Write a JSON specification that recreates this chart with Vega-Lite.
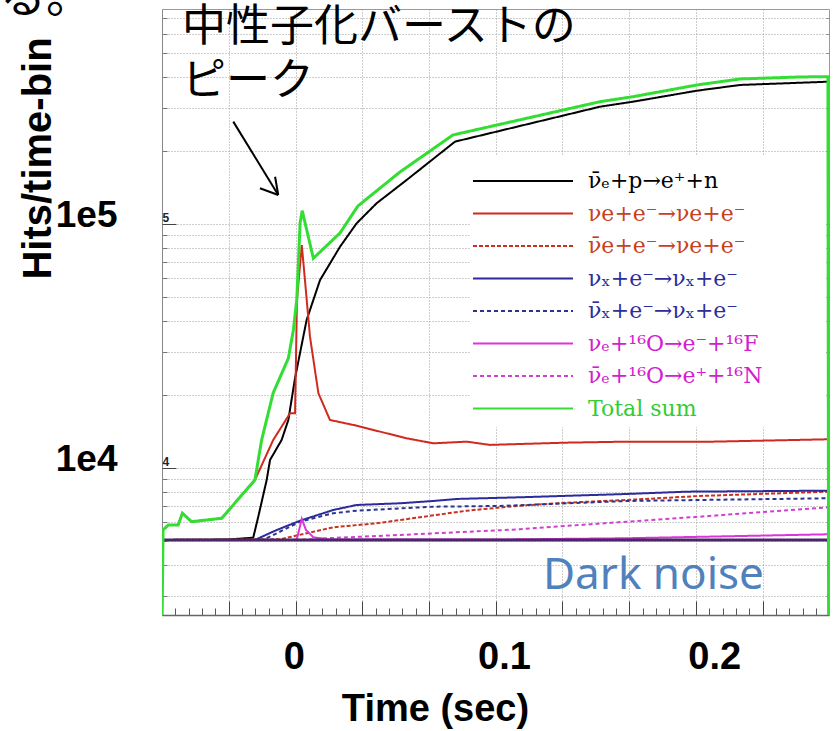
{
  "$schema": "https://vega.github.io/schema/vega-lite/v6.json",
  "autosize": {"type": "none"},
  "padding": {"left": 162, "top": 9, "right": 7, "bottom": 116},
  "width": 667,
  "height": 606,
  "background": "white",
  "config": {"view": {"stroke": "#9a9a9a", "strokeWidth": 1}},
  "datasets": {
    "lines": [
      {"s":"nuebar_p","t":-0.0627,"v":5070},{"s":"nuebar_p","t":-0.0313,"v":5090},{"s":"nuebar_p","t":-0.0193,"v":5180},{"s":"nuebar_p","t":-0.0169,"v":6315},{"s":"nuebar_p","t":-0.0129,"v":8930},{"s":"nuebar_p","t":-0.0113,"v":10790},{"s":"nuebar_p","t":-0.0058,"v":13020},{"s":"nuebar_p","t":-0.0026,"v":15730},{"s":"nuebar_p","t":0.0006,"v":23380},{"s":"nuebar_p","t":0.0061,"v":40420},{"s":"nuebar_p","t":0.0125,"v":58950},{"s":"nuebar_p","t":0.022,"v":80710},{"s":"nuebar_p","t":0.0299,"v":100660},{"s":"nuebar_p","t":0.0394,"v":121600},{"s":"nuebar_p","t":0.0537,"v":151500},{"s":"nuebar_p","t":0.0767,"v":217500},{"s":"nuebar_p","t":0.1457,"v":302500},{"s":"nuebar_p","t":0.1614,"v":317100},{"s":"nuebar_p","t":0.1918,"v":351800},{"s":"nuebar_p","t":0.2123,"v":371300},{"s":"nuebar_p","t":0.2546,"v":383000},
      {"s":"nue_e","t":-0.0622,"v":5570},{"s":"nue_e","t":-0.0597,"v":5842},{"s":"nue_e","t":-0.055,"v":5842},{"s":"nue_e","t":-0.053,"v":6524},{"s":"nue_e","t":-0.0486,"v":6025},{"s":"nue_e","t":-0.0343,"v":6220},{"s":"nue_e","t":-0.0185,"v":8930},{"s":"nue_e","t":-0.0098,"v":13020},{"s":"nue_e","t":-0.0018,"v":16760},{"s":"nue_e","t":0.0006,"v":16760},{"s":"nue_e","t":0.0015,"v":48800},{"s":"nue_e","t":0.0038,"v":82010},{"s":"nue_e","t":0.0053,"v":58950},{"s":"nue_e","t":0.0077,"v":34520},{"s":"nue_e","t":0.0117,"v":20240},{"s":"nue_e","t":0.0172,"v":15730},{"s":"nue_e","t":0.0283,"v":15010},{"s":"nue_e","t":0.0537,"v":13230},{"s":"nue_e","t":0.0664,"v":12620},{"s":"nue_e","t":0.0823,"v":12820},{"s":"nue_e","t":0.0933,"v":12430},{"s":"nue_e","t":0.1076,"v":12540},{"s":"nue_e","t":0.1298,"v":12700},{"s":"nue_e","t":0.1584,"v":12820},{"s":"nue_e","t":0.1996,"v":12820},{"s":"nue_e","t":0.2376,"v":13020},{"s":"nue_e","t":0.2546,"v":13110},
      {"s":"nuebar_e","t":-0.0627,"v":5070},{"s":"nuebar_e","t":-0.0066,"v":5100},{"s":"nuebar_e","t":0.0061,"v":5400},{"s":"nuebar_e","t":0.0188,"v":5715},{"s":"nuebar_e","t":0.0394,"v":5934},{"s":"nuebar_e","t":0.06,"v":6281},{"s":"nuebar_e","t":0.0823,"v":6683},{"s":"nuebar_e","t":0.1076,"v":7006},{"s":"nuebar_e","t":0.1298,"v":7207},{"s":"nuebar_e","t":0.1584,"v":7394},{"s":"nuebar_e","t":0.1932,"v":7678},{"s":"nuebar_e","t":0.2546,"v":7997},
      {"s":"nux_e","t":-0.0627,"v":5070},{"s":"nux_e","t":-0.0185,"v":5070},{"s":"nux_e","t":-0.0081,"v":5570},{"s":"nux_e","t":0.003,"v":6081},{"s":"nux_e","t":0.0188,"v":6728},{"s":"nux_e","t":0.0299,"v":7053},{"s":"nux_e","t":0.0505,"v":7166},{"s":"nux_e","t":0.0664,"v":7325},{"s":"nux_e","t":0.0775,"v":7465},{"s":"nux_e","t":0.1076,"v":7584},{"s":"nux_e","t":0.1584,"v":7824},{"s":"nux_e","t":0.1869,"v":7997},{"s":"nux_e","t":0.2546,"v":8072},
      {"s":"nuxbar_e","t":-0.0627,"v":5070},{"s":"nuxbar_e","t":-0.016,"v":5070},{"s":"nuxbar_e","t":-0.0129,"v":5152},{"s":"nuxbar_e","t":0.003,"v":6025},{"s":"nuxbar_e","t":0.0188,"v":6524},{"s":"nuxbar_e","t":0.0299,"v":6683},{"s":"nuxbar_e","t":0.0664,"v":6940},{"s":"nuxbar_e","t":0.0981,"v":6987},{"s":"nuxbar_e","t":0.1584,"v":7325},{"s":"nuxbar_e","t":0.2546,"v":7513},
      {"s":"nue_O","t":-0.0627,"v":5070},{"s":"nue_O","t":-0.0009,"v":5070},{"s":"nue_O","t":0.0014,"v":5090},{"s":"nue_O","t":0.0038,"v":6180},{"s":"nue_O","t":0.0058,"v":5570},{"s":"nue_O","t":0.0093,"v":5200},{"s":"nue_O","t":0.0172,"v":5090},{"s":"nue_O","t":0.0981,"v":5090},{"s":"nue_O","t":0.1584,"v":5152},{"s":"nue_O","t":0.2546,"v":5349},
      {"s":"nuebar_O","t":-0.0627,"v":5070},{"s":"nuebar_O","t":0.003,"v":5070},{"s":"nuebar_O","t":0.0157,"v":5152},{"s":"nuebar_O","t":0.0505,"v":5314},{"s":"nuebar_O","t":0.1076,"v":5608},{"s":"nuebar_O","t":0.1584,"v":6025},{"s":"nuebar_O","t":0.1932,"v":6315},{"s":"nuebar_O","t":0.2546,"v":6900},
      {"s":"total","t":-0.06265,"v":2400},{"s":"total","t":-0.0622,"v":5570},{"s":"total","t":-0.0597,"v":5842},{"s":"total","t":-0.055,"v":5842},{"s":"total","t":-0.053,"v":6524},{"s":"total","t":-0.0486,"v":6025},{"s":"total","t":-0.0343,"v":6220},{"s":"total","t":-0.0185,"v":8930},{"s":"total","t":-0.0153,"v":13020},{"s":"total","t":-0.0098,"v":20300},{"s":"total","t":-0.0026,"v":28150},{"s":"total","t":-0.0002,"v":36780},{"s":"total","t":0.0014,"v":48800},{"s":"total","t":0.003,"v":100900},{"s":"total","t":0.004,"v":113400},{"s":"total","t":0.0093,"v":72330},{"s":"total","t":0.022,"v":91860},{"s":"total","t":0.0305,"v":118500},{"s":"total","t":0.0505,"v":163300},{"s":"total","t":0.0757,"v":231600},{"s":"total","t":0.1457,"v":317100},{"s":"total","t":0.1614,"v":332400},{"s":"total","t":0.1918,"v":371300},{"s":"total","t":0.2123,"v":392900},{"s":"total","t":0.2408,"v":400400},{"s":"total","t":0.2541,"v":401500},{"s":"total","t":0.2544,"v":2400}
    ],
    "noise": [{"t":-0.0627,"v":5070},{"t":0.2546,"v":5070}],
    "legendbox": [{"t":0.0838,"t2":0.2532,"v":14720,"v2":191800}],
    "annot": [
      {"kind":"jp","t":-0.0532,"v":635800,"label":"中性子化バーストの"},
      {"kind":"jp","t":-0.0532,"v":380200,"label":"ピーク"},
      {"kind":"dn","t":0.1185,"v":3193,"label":"Dark noise"},
      {"kind":"ru","t":-0.1398,"v":739500,"label":"る。"}
    ],
    "arrow": [
      {"t":-0.0288,"v":262700,"t2":-0.0074,"v2":131500},
      {"t":-0.0161,"v":140100,"t2":-0.0074,"v2":131500},
      {"t":-0.0089,"v":156200,"t2":-0.0074,"v2":131500}
    ]
  },
  "resolve": {"scale": {"x": "shared", "y": "shared"}, "axis": {"x": "independent", "y": "independent"}},
  "layer": [
    {
      "data": {"name": "legendbox"},
      "mark": {"type": "rect", "fill": "white"},
      "encoding": {
        "x": {"field": "t", "type": "quantitative", "scale": {"domain": [-0.0627, 0.2546], "nice": false, "zero": false},
              "axis": {"orient": "bottom", "values": [-0.03095, 0.00081, 0.03256, 0.06432, 0.09607, 0.12782, 0.15958, 0.19133, 0.22309], "grid": true, "gridColor": "#9a9a9a", "gridDash": [1, 2], "gridWidth": 1, "ticks": false, "tickSize": 0, "labels": false, "domain": false, "title": null}},
        "x2": {"field": "t2"},
        "y": {"field": "v", "type": "quantitative", "scale": {"type": "log", "domain": [2497, 760400], "nice": false},
              "axis": {"orient": "left", "values": [3000,4000,5000,6000,7000,8000,9000,10000,20000,30000,40000,50000,60000,70000,80000,90000,100000,200000,300000,400000,500000,600000,700000], "grid": true, "gridColor": "#9a9a9a", "gridDash": [1, 2], "gridWidth": 1, "ticks": false, "tickSize": 0, "labels": false, "domain": false, "title": null}},
        "y2": {"field": "v2"}
      }
    },
    {
      "data": {"name": "lines"},
      "transform": [{"filter": "datum.s !== 'total'"}],
      "mark": {"type": "line", "strokeWidth": 2, "clip": true},
      "encoding": {
        "x": {"field": "t", "type": "quantitative", "scale": {"domain": [-0.0627, 0.2546], "nice": false, "zero": false},
              "axis": {"orient": "bottom", "values": [0, 0.1, 0.2], "format": "~g", "grid": false, "ticks": false, "tickSize": 0, "domain": false, "labelFont": "Liberation Sans", "labelFontWeight": "bold", "labelFontSize": 38, "labelColor": "#000000", "labelPadding": 53, "labelBaseline": "alphabetic", "labelFlush": false, "labelOverlap": false,
                       "title": "Time (sec)", "titleFont": "Liberation Sans", "titleFontWeight": "bold", "titleFontSize": 38, "titleColor": "#000000", "titleX": 273, "titleY": 105, "titleBaseline": "alphabetic", "titleAlign": "center"}},
        "y": {"field": "v", "type": "quantitative", "scale": {"type": "log", "domain": [2497, 760400], "nice": false},
              "axis": {"orient": "left", "values": [10000, 100000], "labelExpr": "datum.value >= 100000 ? '1e5' : '1e4'", "grid": false, "ticks": false, "tickSize": 0, "domain": false, "labelFont": "Liberation Sans", "labelFontWeight": "bold", "labelFontSize": 37, "labelColor": "#000000", "labelPadding": 45, "labelBaseline": "alphabetic", "labelOffset": 3, "labelOverlap": false,
                       "title": "Hits/time-bin", "titleFont": "Liberation Sans", "titleFontWeight": "bold", "titleFontSize": 40, "titleColor": "#000000", "titleAngle": -90, "titleX": -112, "titleY": 149, "titleBaseline": "alphabetic", "titleAlign": "center"}},
        "color": {"field": "s", "type": "nominal",
                  "scale": {"domain": ["nuebar_p","nue_e","nuebar_e","nux_e","nuxbar_e","nue_O","nuebar_O","total"], "range": ["#000000","#d02a1e","#c8321e","#2b2b9c","#2b3590","#dd33dd","#d040d0","#33dd33"]},
                  "legend": {"orient": "none", "legendX": 310, "legendY": 161, "title": null, "padding": 0, "symbolType": "M-10,0H10", "symbolSize": 100, "symbolStrokeWidth": 2, "symbolOffset": 40, "labelOffset": 54, "labelFont": "DejaVu Serif", "labelFontSize": 22, "labelLimit": 400, "rowPadding": 10.5,
                             "labelExpr": "datum.label==='nuebar_p'?'\u03bd\u0304\u2091+p\u2192e\u207a+n':datum.label==='nue_e'?'\u03bde+e\u207b\u2192\u03bde+e\u207b':datum.label==='nuebar_e'?'\u03bd\u0304e+e\u207b\u2192\u03bde+e\u207b':datum.label==='nux_e'?'\u03bd\u2093+e\u207b\u2192\u03bd\u2093+e\u207b':datum.label==='nuxbar_e'?'\u03bd\u0304\u2093+e\u207b\u2192\u03bd\u2093+e\u207b':datum.label==='nue_O'?'\u03bd\u2091+\u00b9\u2076O\u2192e\u207b+\u00b9\u2076F':datum.label==='nuebar_O'?'\u03bd\u0304\u2091+\u00b9\u2076O\u2192e\u207a+\u00b9\u2076N':'Total sum'",
                             "labelColor": {"expr": "(datum.value==='nue_e'||datum.value==='nuebar_e')?'#c8401e':(datum.value==='nux_e'||datum.value==='nuxbar_e')?'#2e2e99':(datum.value==='nue_O'||datum.value==='nuebar_O')?'#d020d0':datum.value==='total'?'#33cc33':'#000000'"}}},
        "strokeDash": {"field": "s", "type": "nominal",
                  "scale": {"domain": ["nuebar_p","nue_e","nuebar_e","nux_e","nuxbar_e","nue_O","nuebar_O","total"], "range": [[1,0],[1,0],[4,2],[1,0],[4,3],[1,0],[4,3],[1,0]]},
                  "legend": {"orient": "none", "legendX": 310, "legendY": 161, "title": null, "padding": 0, "symbolType": "M-10,0H10", "symbolSize": 100, "symbolStrokeWidth": 2, "symbolOffset": 40, "labelOffset": 54, "labelFont": "DejaVu Serif", "labelFontSize": 22, "labelLimit": 400, "rowPadding": 10.5,
                             "labelExpr": "datum.label==='nuebar_p'?'\u03bd\u0304\u2091+p\u2192e\u207a+n':datum.label==='nue_e'?'\u03bde+e\u207b\u2192\u03bde+e\u207b':datum.label==='nuebar_e'?'\u03bd\u0304e+e\u207b\u2192\u03bde+e\u207b':datum.label==='nux_e'?'\u03bd\u2093+e\u207b\u2192\u03bd\u2093+e\u207b':datum.label==='nuxbar_e'?'\u03bd\u0304\u2093+e\u207b\u2192\u03bd\u2093+e\u207b':datum.label==='nue_O'?'\u03bd\u2091+\u00b9\u2076O\u2192e\u207b+\u00b9\u2076F':datum.label==='nuebar_O'?'\u03bd\u0304\u2091+\u00b9\u2076O\u2192e\u207a+\u00b9\u2076N':'Total sum'",
                             "labelColor": {"expr": "(datum.value==='nue_e'||datum.value==='nuebar_e')?'#c8401e':(datum.value==='nux_e'||datum.value==='nuxbar_e')?'#2e2e99':(datum.value==='nue_O'||datum.value==='nuebar_O')?'#d020d0':datum.value==='total'?'#33cc33':'#000000'"}}}
      }
    },
    {
      "data": {"name": "noise"},
      "mark": {"type": "line", "stroke": "#4a2766", "strokeWidth": 3, "clip": true},
      "encoding": {
        "x": {"field": "t", "type": "quantitative", "scale": {"domain": [-0.0627, 0.2546], "nice": false, "zero": false}, "axis": null},
        "y": {"field": "v", "type": "quantitative", "scale": {"type": "log", "domain": [2497, 760400], "nice": false}, "axis": null}
      }
    },
    {
      "data": {"name": "lines"},
      "transform": [{"filter": "datum.s === 'total'"}],
      "mark": {"type": "line", "strokeWidth": 3, "clip": true},
      "encoding": {
        "x": {"field": "t", "type": "quantitative", "scale": {"domain": [-0.0627, 0.2546], "nice": false, "zero": false},
              "axis": {"orient": "bottom", "values": [-0.05635,-0.05,-0.04365,-0.0373,-0.03095,-0.0246,-0.01824,-0.01189,-0.00554,0.00081,0.00716,0.01351,0.01986,0.02621,0.03256,0.03891,0.04526,0.05162,0.05797,0.06432,0.07067,0.07702,0.08337,0.08972,0.09607,0.10242,0.10877,0.11512,0.12147,0.12782,0.13418,0.14053,0.14688,0.15323,0.15958,0.16593,0.17228,0.17863,0.18498,0.19133,0.19768,0.20403,0.21039,0.21674,0.22309,0.22944,0.23579,0.24214,0.24849], "ticks": true, "tickSize": -7, "tickColor": "#555555", "tickWidth": 1, "labels": false, "domain": true, "domainColor": "#666666", "domainWidth": 1.5, "grid": false, "title": null}},
        "y": {"field": "v", "type": "quantitative", "scale": {"type": "log", "domain": [2497, 760400], "nice": false},
              "axis": {"orient": "left", "values": [3000,4000,5000,6000,7000,8000,9000,10000,20000,30000,40000,50000,60000,70000,80000,90000,100000,200000,300000,400000,500000,600000,700000], "ticks": true, "tickSize": -5, "tickColor": "#777777", "labels": false, "domain": true, "domainColor": "#888888", "grid": false, "title": null}},
        "color": {"field": "s", "type": "nominal", "legend": null},
        "strokeDash": {"field": "s", "type": "nominal", "legend": null}
      }
    },
    {
      "data": {"name": "annot"},
      "transform": [{"filter": "datum.kind === 'jp'"}],
      "mark": {"type": "text", "font": "Noto Sans CJK JP", "fontSize": 44, "align": "left", "baseline": "middle", "color": "#000000"},
      "encoding": {
        "x": {"field": "t", "type": "quantitative", "scale": {"domain": [-0.0627, 0.2546], "nice": false, "zero": false},
              "axis": {"orient": "bottom", "values": [-0.03095, 0.00081, 0.03256, 0.06432, 0.09607, 0.12782, 0.15958, 0.19133, 0.22309], "ticks": true, "tickSize": -14, "tickColor": "#444444", "labels": false, "domain": false, "grid": false, "title": null}},
        "y": {"field": "v", "type": "quantitative", "scale": {"type": "log", "domain": [2497, 760400], "nice": false},
              "axis": {"orient": "left", "values": [10000, 100000], "ticks": true, "tickSize": -14, "tickColor": "#444444", "labels": true, "labelExpr": "datum.value >= 100000 ? '5' : '4'", "labelAlign": "left", "labelPadding": 14, "labelBaseline": "alphabetic", "labelOffset": -2, "labelFont": "Liberation Sans", "labelFontWeight": "bold", "labelFontSize": 12, "labelColor": "#222222", "domain": false, "grid": false, "title": null}},
        "text": {"field": "label"}
      }
    },
    {
      "data": {"name": "annot"},
      "transform": [{"filter": "datum.kind === 'dn'"}],
      "mark": {"type": "text", "font": "Noto Sans", "fontSize": 44, "align": "left", "baseline": "alphabetic", "color": "#4F81BD"},
      "encoding": {
        "x": {"field": "t", "type": "quantitative", "scale": {"domain": [-0.0627, 0.2546], "nice": false, "zero": false}, "axis": null},
        "y": {"field": "v", "type": "quantitative", "scale": {"type": "log", "domain": [2497, 760400], "nice": false},
              "axis": {"orient": "right", "values": [3000,4000,5000,6000,7000,8000,9000,10000,20000,30000,40000,50000,60000,70000,80000,90000,100000,200000,300000,400000,500000,600000,700000], "ticks": true, "tickSize": -3, "tickColor": "#888888", "labels": false, "domain": false, "grid": false, "title": null}},
        "text": {"field": "label"}
      }
    },
    {
      "data": {"name": "annot"},
      "transform": [{"filter": "datum.kind === 'ru'"}],
      "mark": {"type": "text", "font": "Noto Sans CJK JP", "fontSize": 46, "align": "left", "baseline": "alphabetic", "color": "#000000"},
      "encoding": {
        "x": {"field": "t", "type": "quantitative", "scale": {"domain": [-0.0627, 0.2546], "nice": false, "zero": false}, "axis": null},
        "y": {"field": "v", "type": "quantitative", "scale": {"type": "log", "domain": [2497, 760400], "nice": false}, "axis": null},
        "text": {"field": "label"}
      }
    },
    {
      "data": {"name": "arrow"},
      "mark": {"type": "rule", "stroke": "#000000", "strokeWidth": 2},
      "encoding": {
        "x": {"field": "t", "type": "quantitative", "scale": {"domain": [-0.0627, 0.2546], "nice": false, "zero": false}, "axis": null},
        "y": {"field": "v", "type": "quantitative", "scale": {"type": "log", "domain": [2497, 760400], "nice": false}, "axis": null},
        "x2": {"field": "t2"},
        "y2": {"field": "v2"}
      }
    }
  ]
}
